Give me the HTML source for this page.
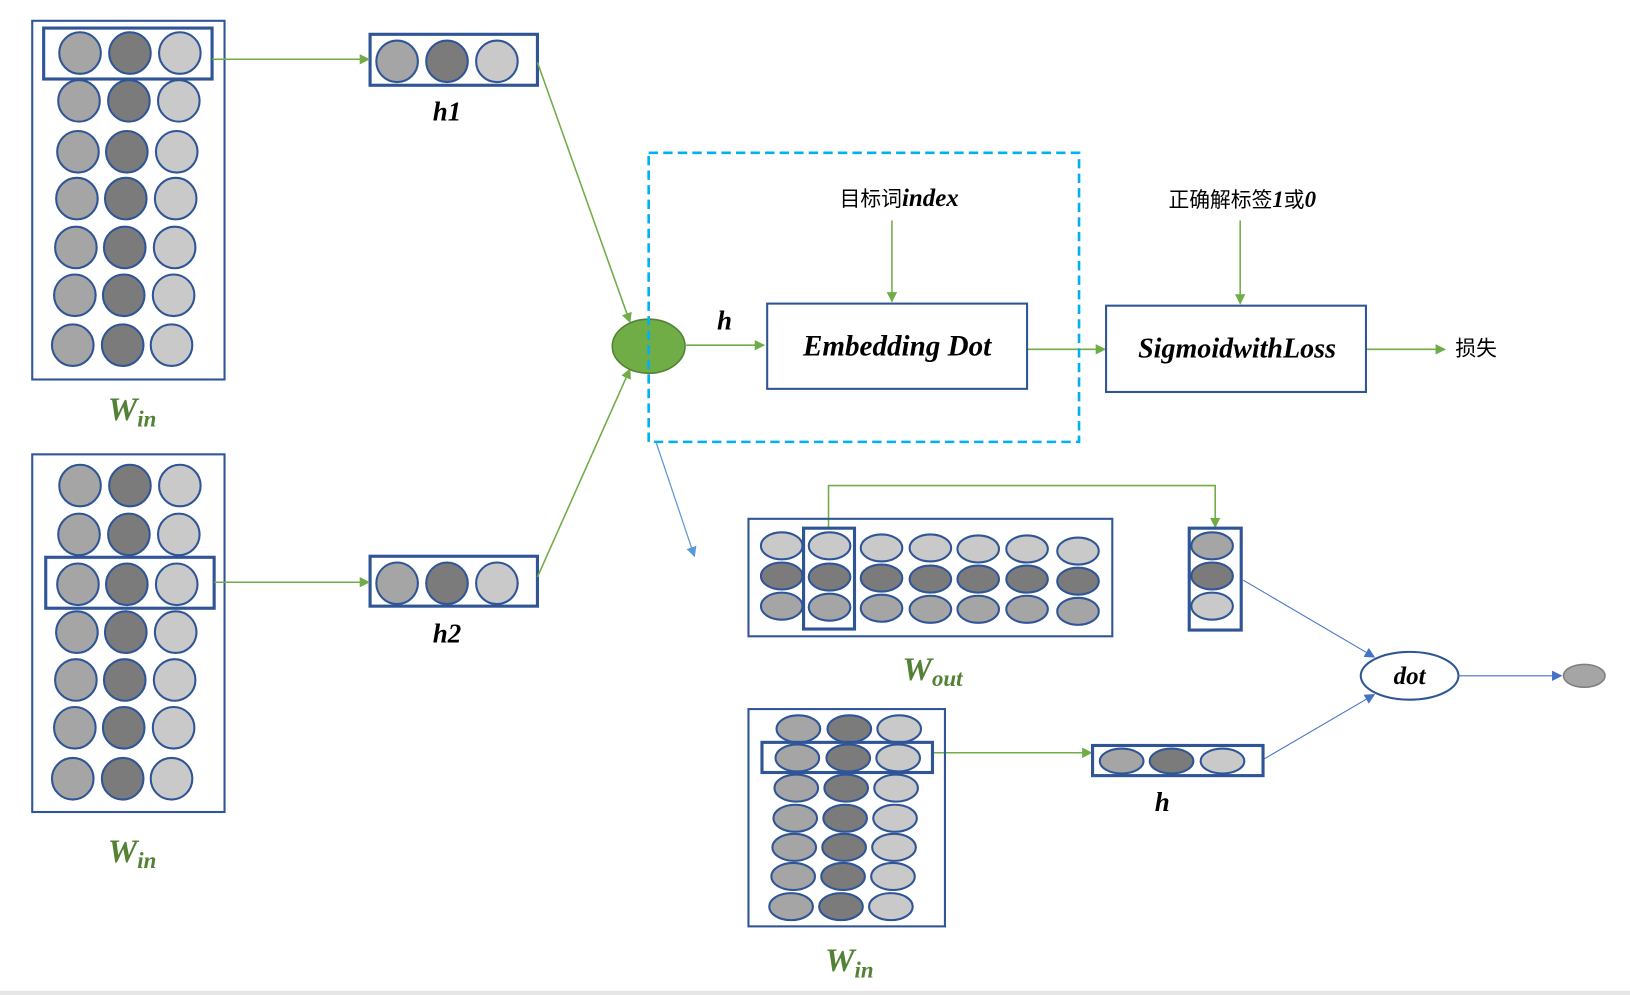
<!DOCTYPE html>
<html><head><meta charset="utf-8"><style>
html,body{margin:0;padding:0;background:#fff;overflow:hidden}
svg{display:block}
text{font-family:"Liberation Serif","Noto Serif CJK SC",serif}
.lab{font-style:italic;font-weight:bold;fill:#000}
.w{font-style:italic;font-weight:bold;fill:#538135}
.cn{font-family:"Liberation Serif","Noto Sans CJK SC",sans-serif;fill:#000}
</style></head><body>
<svg width="1630" height="995" viewBox="0 0 1568 957" preserveAspectRatio="none" xmlns="http://www.w3.org/2000/svg">
<defs>
<marker id="ga" markerWidth="10" markerHeight="10" refX="9" refY="5" orient="auto" markerUnits="userSpaceOnUse"><path d="M0,0 L10,5 L0,10 z" fill="#70ad47"/></marker>
<marker id="ba" markerWidth="10" markerHeight="10" refX="9" refY="5" orient="auto" markerUnits="userSpaceOnUse"><path d="M0,0 L10,5 L0,10 z" fill="#4472c4"/></marker>
<marker id="lb" markerWidth="10" markerHeight="10" refX="9" refY="5" orient="auto" markerUnits="userSpaceOnUse"><path d="M0,0 L10,5 L0,10 z" fill="#5b9bd5"/></marker>
</defs>
<g stroke="#2f5597" stroke-width="2">
<!-- Win top -->
<rect x="31" y="20" width="185" height="345" fill="none"/>
<g>
<circle cx="77" cy="51" r="20" fill="#a5a5a5"/><circle cx="125" cy="51" r="20" fill="#7b7b7b"/><circle cx="173" cy="51" r="20" fill="#c9c9c9"/>
<circle cx="76" cy="97" r="20" fill="#a5a5a5"/><circle cx="124" cy="97" r="20" fill="#7b7b7b"/><circle cx="172" cy="97" r="20" fill="#c9c9c9"/>
<circle cx="75" cy="146" r="20" fill="#a5a5a5"/><circle cx="122" cy="146" r="20" fill="#7b7b7b"/><circle cx="170" cy="146" r="20" fill="#c9c9c9"/>
<circle cx="74" cy="191" r="20" fill="#a5a5a5"/><circle cx="121" cy="191" r="20" fill="#7b7b7b"/><circle cx="169" cy="191" r="20" fill="#c9c9c9"/>
<circle cx="73" cy="238" r="20" fill="#a5a5a5"/><circle cx="120" cy="238" r="20" fill="#7b7b7b"/><circle cx="168" cy="238" r="20" fill="#c9c9c9"/>
<circle cx="72" cy="284" r="20" fill="#a5a5a5"/><circle cx="119" cy="284" r="20" fill="#7b7b7b"/><circle cx="167" cy="284" r="20" fill="#c9c9c9"/>
<circle cx="70" cy="332" r="20" fill="#a5a5a5"/><circle cx="118" cy="332" r="20" fill="#7b7b7b"/><circle cx="165" cy="332" r="20" fill="#c9c9c9"/>
</g>
<rect x="42" y="27" width="162" height="49" fill="none" stroke-width="3"/>
<!-- h1 -->
<rect x="356" y="33" width="161" height="49" fill="none" stroke-width="3"/>
<circle cx="382" cy="59" r="20" fill="#a5a5a5"/><circle cx="430" cy="59" r="20" fill="#7b7b7b"/><circle cx="478" cy="59" r="20" fill="#c9c9c9"/>
<!-- Win 2 -->
<rect x="31" y="437" width="185" height="344" fill="none"/>
<circle cx="77" cy="467" r="20" fill="#a5a5a5"/><circle cx="125" cy="467" r="20" fill="#7b7b7b"/><circle cx="173" cy="467" r="20" fill="#c9c9c9"/>
<circle cx="76" cy="514" r="20" fill="#a5a5a5"/><circle cx="124" cy="514" r="20" fill="#7b7b7b"/><circle cx="172" cy="514" r="20" fill="#c9c9c9"/>
<circle cx="75" cy="562" r="20" fill="#a5a5a5"/><circle cx="122" cy="562" r="20" fill="#7b7b7b"/><circle cx="170" cy="562" r="20" fill="#c9c9c9"/>
<circle cx="74" cy="608" r="20" fill="#a5a5a5"/><circle cx="121" cy="608" r="20" fill="#7b7b7b"/><circle cx="169" cy="608" r="20" fill="#c9c9c9"/>
<circle cx="73" cy="654" r="20" fill="#a5a5a5"/><circle cx="120" cy="654" r="20" fill="#7b7b7b"/><circle cx="168" cy="654" r="20" fill="#c9c9c9"/>
<circle cx="72" cy="700" r="20" fill="#a5a5a5"/><circle cx="119" cy="700" r="20" fill="#7b7b7b"/><circle cx="167" cy="700" r="20" fill="#c9c9c9"/>
<circle cx="70" cy="749" r="20" fill="#a5a5a5"/><circle cx="118" cy="749" r="20" fill="#7b7b7b"/><circle cx="165" cy="749" r="20" fill="#c9c9c9"/>
<rect x="44" y="536" width="162" height="49" fill="none" stroke-width="3"/>
<!-- h2 -->
<rect x="356" y="535" width="161" height="48" fill="none" stroke-width="3"/>
<circle cx="382" cy="561" r="20" fill="#a5a5a5"/><circle cx="430" cy="561" r="20" fill="#7b7b7b"/><circle cx="478" cy="561" r="20" fill="#c9c9c9"/>
</g>
<!-- connectors left -->
<g stroke="#70ad47" stroke-width="1.5" fill="none">
<line x1="204" y1="57" x2="355" y2="57" marker-end="url(#ga)"/>
<line x1="206" y1="560" x2="355" y2="560" marker-end="url(#ga)"/>
<line x1="517" y1="60" x2="606" y2="310" marker-end="url(#ga)"/>
<line x1="517" y1="555" x2="606" y2="355" marker-end="url(#ga)"/>
<line x1="660" y1="332" x2="735" y2="332" marker-end="url(#ga)"/>
<line x1="858" y1="212" x2="858" y2="290" marker-end="url(#ga)"/>
<line x1="988" y1="336" x2="1063" y2="336" marker-end="url(#ga)"/>
<line x1="1193" y1="212" x2="1193" y2="292" marker-end="url(#ga)"/>
<line x1="1314" y1="336" x2="1390" y2="336" marker-end="url(#ga)"/>
<polyline points="797,508 797,467 1169,467 1169,507" marker-end="url(#ga)"/>
<line x1="897" y1="724" x2="1050" y2="724" marker-end="url(#ga)"/>
</g>
<text x="127" y="404" class="w" font-size="32" text-anchor="middle">W<tspan font-size="22" dy="6">in</tspan></text>
<text x="127" y="829" class="w" font-size="32" text-anchor="middle">W<tspan font-size="22" dy="6">in</tspan></text>
<text x="430" y="116" class="lab" font-size="26" text-anchor="middle">h1</text>
<text x="430" y="618" class="lab" font-size="26" text-anchor="middle">h2</text>
<!-- center -->
<ellipse cx="624" cy="333" rx="35" ry="26" fill="#70ad47" stroke="#538135" stroke-width="1.5"/>
<rect x="624" y="147" width="414" height="278" fill="none" stroke="#00b0f0" stroke-width="2.5" stroke-dasharray="9,5"/>
<text x="697" y="317" class="lab" font-size="26" text-anchor="middle">h</text>
<rect x="738" y="292" width="250" height="82" fill="#fff" stroke="#2f5597" stroke-width="2"/>
<text x="863" y="342" class="lab" font-size="28" text-anchor="middle">Embedding Dot</text>
<text x="865" y="198" class="cn" font-size="20" text-anchor="middle">目标词<tspan class="lab" font-size="24">index</tspan></text>
<rect x="1064" y="294" width="250" height="83" fill="#fff" stroke="#2f5597" stroke-width="2"/>
<text x="1190" y="344" class="lab" font-size="27" text-anchor="middle">SigmoidwithLoss</text>
<text x="1195" y="199" class="cn" font-size="20" text-anchor="middle">正确解标签<tspan class="lab" font-size="22">1</tspan>或<tspan class="lab" font-size="22">0</tspan></text>
<text x="1420" y="342" class="cn" font-size="20" text-anchor="middle">损失</text>
<line x1="631" y1="425" x2="668" y2="535" stroke="#5b9bd5" stroke-width="1.2" marker-end="url(#lb)"/>
<!-- Wout -->
<g stroke="#2f5597" stroke-width="2">
<rect x="720" y="499" width="350" height="113" fill="none"/>
<g>
<ellipse cx="752" cy="525" rx="20" ry="13" fill="#c9c9c9"/><ellipse cx="798" cy="525" rx="20" ry="13" fill="#c9c9c9"/><ellipse cx="848" cy="527" rx="20" ry="13" fill="#c9c9c9"/><ellipse cx="895" cy="527" rx="20" ry="13" fill="#c9c9c9"/><ellipse cx="941" cy="528" rx="20" ry="13" fill="#c9c9c9"/><ellipse cx="988" cy="528" rx="20" ry="13" fill="#c9c9c9"/><ellipse cx="1037" cy="530" rx="20" ry="13" fill="#c9c9c9"/>
<ellipse cx="752" cy="554" rx="20" ry="13" fill="#7b7b7b"/><ellipse cx="798" cy="555" rx="20" ry="13" fill="#7b7b7b"/><ellipse cx="848" cy="556" rx="20" ry="13" fill="#7b7b7b"/><ellipse cx="895" cy="557" rx="20" ry="13" fill="#7b7b7b"/><ellipse cx="941" cy="557" rx="20" ry="13" fill="#7b7b7b"/><ellipse cx="988" cy="557" rx="20" ry="13" fill="#7b7b7b"/><ellipse cx="1037" cy="559" rx="20" ry="13" fill="#7b7b7b"/>
<ellipse cx="752" cy="583" rx="20" ry="13" fill="#a5a5a5"/><ellipse cx="798" cy="584" rx="20" ry="13" fill="#a5a5a5"/><ellipse cx="848" cy="585" rx="20" ry="13" fill="#a5a5a5"/><ellipse cx="895" cy="586" rx="20" ry="13" fill="#a5a5a5"/><ellipse cx="941" cy="586" rx="20" ry="13" fill="#a5a5a5"/><ellipse cx="988" cy="586" rx="20" ry="13" fill="#a5a5a5"/><ellipse cx="1037" cy="588" rx="20" ry="13" fill="#a5a5a5"/>
</g>
<rect x="773" y="508" width="49" height="97" fill="none" stroke-width="3"/>
<rect x="1144" y="508" width="50" height="98" fill="none" stroke-width="3"/>
<ellipse cx="1166" cy="525" rx="20" ry="13" fill="#a5a5a5"/><ellipse cx="1166" cy="554" rx="20" ry="13" fill="#7b7b7b"/><ellipse cx="1166" cy="583" rx="20" ry="13" fill="#c9c9c9"/>
<!-- Win 3 -->
<rect x="720" y="682" width="189" height="209" fill="none"/>
<ellipse cx="768" cy="701" rx="21" ry="13" fill="#a5a5a5"/><ellipse cx="817" cy="701" rx="21" ry="13" fill="#7b7b7b"/><ellipse cx="865" cy="701" rx="21" ry="13" fill="#c9c9c9"/>
<ellipse cx="767" cy="729" rx="21" ry="13" fill="#a5a5a5"/><ellipse cx="816" cy="729" rx="21" ry="13" fill="#7b7b7b"/><ellipse cx="864" cy="729" rx="21" ry="13" fill="#c9c9c9"/>
<ellipse cx="766" cy="758" rx="21" ry="13" fill="#a5a5a5"/><ellipse cx="814" cy="758" rx="21" ry="13" fill="#7b7b7b"/><ellipse cx="862" cy="758" rx="21" ry="13" fill="#c9c9c9"/>
<ellipse cx="765" cy="787" rx="21" ry="13" fill="#a5a5a5"/><ellipse cx="813" cy="787" rx="21" ry="13" fill="#7b7b7b"/><ellipse cx="861" cy="787" rx="21" ry="13" fill="#c9c9c9"/>
<ellipse cx="764" cy="815" rx="21" ry="13" fill="#a5a5a5"/><ellipse cx="812" cy="815" rx="21" ry="13" fill="#7b7b7b"/><ellipse cx="860" cy="815" rx="21" ry="13" fill="#c9c9c9"/>
<ellipse cx="763" cy="843" rx="21" ry="13" fill="#a5a5a5"/><ellipse cx="811" cy="843" rx="21" ry="13" fill="#7b7b7b"/><ellipse cx="859" cy="843" rx="21" ry="13" fill="#c9c9c9"/>
<ellipse cx="761" cy="872" rx="21" ry="13" fill="#a5a5a5"/><ellipse cx="809" cy="872" rx="21" ry="13" fill="#7b7b7b"/><ellipse cx="857" cy="872" rx="21" ry="13" fill="#c9c9c9"/>
<rect x="733" y="714" width="164" height="29" fill="none" stroke-width="3"/>
<rect x="1051" y="717" width="164" height="29" fill="none" stroke-width="3"/>
<ellipse cx="1079" cy="732" rx="21" ry="12" fill="#a5a5a5"/><ellipse cx="1127" cy="732" rx="21" ry="12" fill="#7b7b7b"/><ellipse cx="1176" cy="732" rx="21" ry="12" fill="#c9c9c9"/>
<ellipse cx="1356" cy="650" rx="47" ry="23" fill="#fff"/>
</g>
<g stroke="#4472c4" stroke-width="1" fill="none">
<line x1="1196" y1="558" x2="1322" y2="632" marker-end="url(#ba)"/>
<line x1="1216" y1="730" x2="1322" y2="668" marker-end="url(#ba)"/>
<line x1="1403" y1="650" x2="1502" y2="650" marker-end="url(#ba)"/>
</g>
<ellipse cx="1524" cy="650" rx="20" ry="11" fill="#a5a5a5" stroke="#7f7f7f" stroke-width="1.5"/>
<text x="1356" y="658" class="lab" font-size="24" text-anchor="middle">dot</text>
<text x="1118" y="780" class="lab" font-size="26" text-anchor="middle">h</text>
<text x="897" y="654" class="w" font-size="32" text-anchor="middle">W<tspan font-size="22" dy="6">out</tspan></text>
<text x="817" y="934" class="w" font-size="32" text-anchor="middle">W<tspan font-size="22" dy="6">in</tspan></text>
<rect x="0" y="953" width="1568" height="4" fill="#e6e6e6"/>
</svg>
</body></html>
